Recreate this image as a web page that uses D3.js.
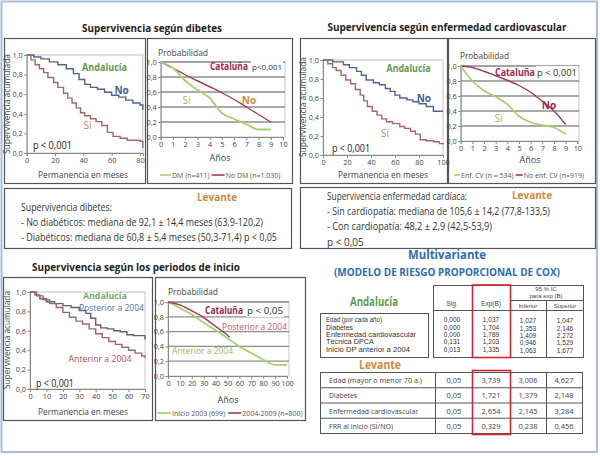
<!DOCTYPE html>
<html><head><meta charset="utf-8">
<script src="https://cdn.jsdelivr.net/npm/d3@7"></script>
<style>
body{margin:0;background:#fff}
svg{display:block}
</style></head><body>
<svg id="c" width="600" height="456"></svg>
<script>
// ---------------- DATA ----------------
// Panel 1: Andalucía, diabetes (months)
const p1NoX = [0,5,10,16,22,28,33,37,41,45,50,55,60,65,70,75,80,82];
const p1NoY = [1.0,0.98,0.96,0.93,0.90,0.86,0.81,0.75,0.70,0.67,0.65,0.62,0.59,0.57,0.54,0.51,0.49,0.44];
const p1SiX = [0,3,6,9,12,15,19,22,26,29,32,35,38,41,45,49,53,57,61,66,71,76,80,82];
const p1SiY = [1.0,0.95,0.90,0.86,0.82,0.77,0.72,0.67,0.61,0.56,0.51,0.46,0.41,0.38,0.35,0.32,0.28,0.21,0.17,0.15,0.13,0.13,0.12,0.05];
// Panel 2: Cataluña, diabetes (years)
const yearsX = [0,1,2,3,4,5,6,7,8,9];
const p2NoY = [1.0,0.92,0.83,0.75,0.67,0.59,0.50,0.40,0.30,0.20];
const p2SiY = [1.0,0.92,0.75,0.63,0.52,0.32,0.24,0.17,0.10,0.10];
// Panel 3: Andalucía, enfermedad cardiovascular (months)
const p3NoX = [0,8,17,22,28,32,36,42,47,52,56,60,64,70,75,80,86,92,100];
const p3NoY = [1.0,0.98,0.95,0.92,0.88,0.84,0.79,0.76,0.74,0.70,0.67,0.63,0.60,0.58,0.56,0.54,0.51,0.46,0.46];
const p3SiX = [0,4,8,11,15,19,23,27,31,34,37,41,45,49,53,58,64,68,73,77,81,86,92,97,100];
const p3SiY = [1.0,0.96,0.92,0.89,0.84,0.79,0.75,0.69,0.63,0.57,0.51,0.46,0.42,0.38,0.35,0.33,0.30,0.28,0.25,0.22,0.16,0.15,0.14,0.12,0.11];
// Panel 4: Cataluña, enfermedad cardiovascular (years)
const p4NoY = [1.0,0.98,0.93,0.87,0.81,0.74,0.65,0.53,0.40,0.22];
const p4SiY = [1.0,0.80,0.67,0.59,0.49,0.33,0.25,0.21,0.18,0.09];
// Panel 5: Andalucía, periodo de inicio (months)
const p5PostX = [0,3,6,10,15,20,25,30,34,37,40,43,47,51,55,59,63,67,70];
const p5PostY = [1.0,0.97,0.93,0.90,0.88,0.86,0.84,0.81,0.78,0.73,0.66,0.63,0.62,0.60,0.59,0.56,0.55,0.55,0.51];
const p5AntX = [0,4,8,12,16,20,24,28,32,36,40,44,48,52,56,60,64,68,70];
const p5AntY = [1.0,0.96,0.92,0.88,0.84,0.79,0.74,0.70,0.67,0.62,0.57,0.53,0.49,0.46,0.43,0.40,0.37,0.34,0.32];
// Panel 6: Cataluña, periodo de inicio
const p6GreenX = [0,10,20,30,40,50,60,70,80,90,100];
const p6GreenY = [1.0,0.92,0.83,0.72,0.62,0.51,0.40,0.31,0.22,0.15,0.15];
const p6RedX = [0,10,20,30,40,50,52];
const p6RedY = [1.0,0.96,0.88,0.79,0.67,0.55,0.52];
// Tick labels
const probTicks = [0,0.2,0.4,0.6,0.8,1.0];
const ticks80 = [0,20,40,60,80];
const ticks100 = [0,20,40,60,80,100];
const ticks70 = [0,10,20,30,40,50,60,70];
const ticks10 = [0,1,2,3,4,5,6,7,8,9,10];
const ticks100b = [0,10,20,30,40,50,60,70,80,90,100];
// Tables
const andVars = ["Edad (por cada año)","Diabetes","Enfermedad cardiovascular","Técnica DPCA","Inicio DP anterior a 2004"];
const andSig = ["0,000","0,000","0,000","0,131","0,013"];
const andExp = ["1,037","1,704","1,789","1,203","1,335"];
const andInf = ["1,027","1,353","1,409","0,946","1,063"];
const andSup = ["1,047","2,146","2,272","1,529","1,677"];
const levVars = ["Edad (mayor o menor 70 a.)","Diabetes","Enfermedad cardiovascular","FRR al inicio (SÍ/NO)"];
const levSig = ["0,05","0,05","0,05","0,05"];
const levExp = ["3,739","1,721","2,654","0,329"];
const levInf = ["3,006","1,379","2,145","0,238"];
const levSup = ["4,627","2,148","3,284","0,456"];

// ---------------- DRAW ----------------
const svg = d3.select("#c");
const F = "'Open Sans', 'Noto Sans', sans-serif";
const FT = "'Liberation Sans', Arial, sans-serif";
const C = {
  andGreen:"#5f9a4c", blueTxt:"#3f5fa6", orange:"#d2893c", catRed:"#9c2a4b",
  andNoLine:"#56628c", andSiLine:"#a7676a", catNoLine:"#a13a5a", catSiLine:"#a9cf72",
  grid:"#8e8e8e", border:"#555", multi:"#2c6db3", red:"#d3262f"
};

function txt(g, x, y, s, o={}) {
  const t = g.append("text").attr("x",x).attr("y",y).text(s)
    .attr("font-family", o.font||F).attr("font-size", o.size||10)
    .attr("fill", o.fill||"#333").attr("font-weight", o.bold?"bold":"normal")
    .attr("text-anchor", o.anchor||"start");
  if (o.len) t.attr("textLength", o.len).attr("lengthAdjust","spacingAndGlyphs");
  if (o.rot) t.attr("transform", `rotate(-90,${x},${y})`);
  return t;
}
function rect(g, x, y, w, h, stroke, sw=1, fill="none") {
  return g.append("rect").attr("x",x).attr("y",y).attr("width",w).attr("height",h)
    .attr("fill",fill).attr("stroke",stroke).attr("stroke-width",sw);
}

// outer frame
rect(svg, 1.5, 1.5, 595.5, 450.5, "#a9bdd8", 2);

function panel(L, series, labels) {
  const g = svg.append("g");
  rect(g, L.box[0]+0.5, L.box[1]+0.5, L.box[2]-L.box[0], L.box[3]-L.box[1], C.border, 1.2);
  const x = d3.scaleLinear().domain(L.xd).range(L.xr);
  const y = d3.scaleLinear().domain([0,1]).range(L.yr);
  if (L.grid) {
    rect(g, L.xr[0], L.yr[1], L.gridRight - L.xr[0], L.yr[0]-L.yr[1], "#c8c8c8", 1);
    g.selectAll("line.gr").data(probTicks.filter(d=>d>0)).join("line")
      .attr("x1", L.xr[0]).attr("x2", L.gridRight)
      .attr("y1", d=>y(d)).attr("y2", d=>y(d))
      .attr("stroke", C.grid).attr("stroke-width", 1.3);
  } else {
    rect(g, L.xr[0], L.yr[1], L.xr[1]-L.xr[0], L.yr[0]-L.yr[1], "#c4c4c4", 1);
  }
  const fmt = d => d.toFixed(1).replace(".", ",");
  const ya = g.append("g").attr("transform",`translate(${L.xr[0]},0)`)
    .call(d3.axisLeft(y).tickValues(probTicks).tickSize(2.5).tickPadding(1.5).tickFormat(fmt));
  const xa = g.append("g").attr("transform",`translate(0,${L.yr[0]})`)
    .call(d3.axisBottom(x).tickValues(L.xt).tickSize(3).tickPadding(2).tickFormat(d3.format("d")));
  [ya, xa].forEach(a => {
    a.selectAll("text").attr("font-family",F).attr("font-size",7.3).attr("fill","#444");
    a.selectAll("line,path").attr("stroke","#888");
  });
  series.forEach(s => {
    g.append("path").datum(d3.zip(s.x, s.y))
      .attr("d", d3.line().x(d=>x(d[0])).y(d=>y(d[1])).curve(s.curve))
      .attr("fill","none").attr("stroke", s.color).attr("stroke-width", s.w||1.4);
  });
  labels.forEach(l => {
    const px = x(l.at[0]), py = y(l.at[1]);
    if (l.bg) {
      const t = txt(g, px, py, l.t, l);
      const bb = t.node().getBBox();
      g.insert("rect", () => t.node()).attr("x",bb.x-1).attr("y",bb.y)
        .attr("width",bb.width+2).attr("height",bb.height).attr("fill","#fff");
    } else txt(g, px, py, l.t, l);
  });
  return {g, x, y};
}

// Titles
txt(svg, 152, 32, "Supervivencia según dibetes", {bold:true, size:10.5, fill:"#222", anchor:"middle", len:140});
txt(svg, 447, 31, "Supervivencia según enfermedad cardiovascular", {bold:true, size:10.5, fill:"#222", anchor:"middle", len:239});
txt(svg, 136, 271, "Supervivencia según los periodos de inicio", {bold:true, size:10.5, fill:"#222", anchor:"middle", len:208});

// Panel 1
panel({box:[4,38,145,183], xd:[0,82], xr:[26.7,142.8], yr:[153,55], xt:ticks80},
  [{x:p1NoX, y:p1NoY, color:C.andNoLine, curve:d3.curveStepAfter},
   {x:p1SiX, y:p1SiY, color:C.andSiLine, curve:d3.curveStepAfter}],
  [{t:"Andalucía", at:[55,0.84], bold:true, fill:C.andGreen, anchor:"middle", size:10, len:45},
   {t:"No", at:[67,0.60], bold:true, fill:C.blueTxt, anchor:"middle", size:10},
   {t:"Si", at:[43,0.245], fill:C.orange, anchor:"middle", size:10},
   {t:"p < 0,001", at:[4.4,0.04], fill:"#222", size:10, len:39}]);
txt(svg, 83, 178, "Permanencia en meses", {size:9, fill:"#444", anchor:"middle", len:90});
txt(svg, 10, 104, "Supervivencia acumulada", {size:8.5, fill:"#444", anchor:"middle", rot:true, len:100});

// Panel 2
panel({box:[147,38,292,183], xd:[0,10], xr:[160.7,283], yr:[137,62], xt:ticks10, grid:true, gridRight:285},
  [{x:yearsX, y:p2NoY, color:C.catNoLine, curve:d3.curveMonotoneX},
   {x:yearsX, y:p2SiY, color:C.catSiLine, curve:d3.curveMonotoneX, w:1.8}],
  [{t:"Cataluña", at:[4.03,0.893], bold:true, fill:C.catRed, size:10, len:38},
   {t:"p<0,001", at:[7.47,0.893], fill:"#333", size:8, bg:true, len:30},
   {t:"No", at:[7.22,0.44], bold:true, fill:C.orange, anchor:"middle", size:10},
   {t:"Si", at:[2.11,0.44], fill:"#8fbf5a", anchor:"middle", size:10}]);
txt(svg, 158, 56, "Probabilidad", {size:9, fill:"#444", len:50});
txt(svg, 220, 161, "Años", {size:9, fill:"#444", anchor:"middle"});

// Panel 3
panel({box:[300,38,447,183], xd:[0,100], xr:[323,443], yr:[155,60], xt:ticks100},
  [{x:p3NoX, y:p3NoY, color:C.andNoLine, curve:d3.curveStepAfter},
   {x:p3SiX, y:p3SiY, color:C.andSiLine, curve:d3.curveStepAfter}],
  [{t:"Andalucía", at:[71.3,0.874], bold:true, fill:C.andGreen, anchor:"middle", size:10, len:44},
   {t:"No", at:[84,0.558], bold:true, fill:C.blueTxt, anchor:"middle", size:10},
   {t:"Si", at:[51.7,0.19], fill:C.orange, anchor:"middle", size:10},
   {t:"p < 0,001", at:[7.5,0.03], fill:"#222", size:10, len:38}]);
txt(svg, 383, 178, "Permanencia en meses", {size:9, fill:"#444", anchor:"middle", len:90});
txt(svg, 306, 107, "Supervivencia acumulada", {size:8.5, fill:"#444", anchor:"middle", rot:true, len:100});

// Panel 4
panel({box:[448,38,595,183], xd:[0,10], xr:[460.7,577.3], yr:[141,66], xt:ticks10, grid:true, gridRight:579},
  [{x:yearsX, y:p4NoY, color:C.catNoLine, curve:d3.curveMonotoneX},
   {x:yearsX, y:p4SiY, color:C.catSiLine, curve:d3.curveMonotoneX, w:1.8}],
  [{t:"Cataluña", at:[2.94,0.867], bold:true, fill:C.catRed, size:10, len:40},
   {t:"p < 0,001", at:[6.54,0.867], fill:"#333", size:9.5, bg:true, len:40},
   {t:"No", at:[7.57,0.427], bold:true, fill:C.catRed, anchor:"middle", size:10},
   {t:"Si", at:[3.24,0.253], fill:"#8fbf5a", anchor:"middle", size:10}]);
txt(svg, 460, 59, "Probabilidad", {size:9, fill:"#444", len:49});
txt(svg, 530, 163, "Años", {size:9, fill:"#444", anchor:"middle"});

// Panel 5
panel({box:[3,277,152,420], xd:[0,70], xr:[30,145], yr:[389,292], xt:ticks70},
  [{x:p5PostX, y:p5PostY, color:"#5c6272", curve:d3.curveStepAfter},
   {x:p5AntX, y:p5AntY, color:"#9d6676", curve:d3.curveStepAfter}],
  [{t:"Andalucía", at:[45.6,0.928], bold:true, fill:"#7aa66a", anchor:"middle", size:9.5, len:44},
   {t:"Posterior a 2004", at:[49.6,0.804], fill:"#4a72b0", anchor:"middle", size:9, len:65},
   {t:"Anterior a 2004", at:[42.6,0.278], fill:"#b24a5c", anchor:"middle", size:9, len:63},
   {t:"p < 0,001", at:[3.65,0.02], fill:"#222", size:10, len:38}]);
txt(svg, 83, 415, "Permanencia en meses", {size:9, fill:"#444", anchor:"middle", len:90});
txt(svg, 10, 340, "Supervivencia acumulada", {size:8.5, fill:"#444", anchor:"middle", rot:true, len:98});

// Panel 6
panel({box:[155,277,305,420], xd:[0,100], xr:[168,287], yr:[376,302], xt:ticks100b, grid:true, gridRight:289},
  [{x:p6GreenX, y:p6GreenY, color:C.catSiLine, curve:d3.curveMonotoneX, w:1.8},
   {x:p6RedX, y:p6RedY, color:C.catNoLine, curve:d3.curveMonotoneX}],
  [{t:"Cataluña", at:[31.1,0.838], bold:true, fill:C.catRed, size:10, len:38},
   {t:"p < 0,05", at:[66.4,0.838], fill:"#333", size:9.5, bg:true, len:36},
   {t:"Posterior a 2004", at:[45.4,0.62], fill:"#c4566a", size:9, len:65},
   {t:"Anterior a 2004", at:[3.4,0.30], fill:"#8ec060", size:9, len:61}]);
txt(svg, 168, 295, "Probabilidad", {size:9, fill:"#444", len:50});
txt(svg, 228, 403, "Años", {size:9, fill:"#444", anchor:"middle"});

// Legends
function legend(x, y, items) {
  let cx = x;
  items.forEach(it => {
    svg.append("line").attr("x1",cx).attr("x2",cx+it.lw).attr("y1",y).attr("y2",y)
      .attr("stroke",it.color).attr("stroke-width",1.6);
    const t = txt(svg, cx+it.lw+1, y+2.5, it.t, {size:7, fill:"#555"});
    cx += it.lw + 1 + t.node().getComputedTextLength() + it.gap;
  });
}
legend(160, 175, [{t:"DM (n=411)", color:C.catSiLine, lw:11, gap:2},{t:"No DM (n=1.030)", color:C.catNoLine, lw:13, gap:0}]);
legend(454, 175, [{t:"Enf. CV (n = 534)", color:C.catSiLine, lw:6, gap:2},{t:"No enf. CV (n=919)", color:C.catNoLine, lw:7, gap:0}]);
legend(157, 413, [{t:"Inicio 2003 (699)", color:C.catSiLine, lw:14, gap:3},{t:"2004-2009 (n=800)", color:C.catNoLine, lw:13, gap:0}]);

// Text boxes
rect(svg, 4.5, 188.5, 287, 60, C.border, 1.2);
txt(svg, 217, 201, "Levante", {bold:true, size:10, fill:C.orange, anchor:"middle"});
txt(svg, 21, 211, "Supervivencia dibetes:", {size:10, fill:"#333", len:91});
txt(svg, 21, 226, "- No diabéticos: mediana de 92,1 ± 14,4 meses (63,9-120,2)", {size:10, fill:"#333", len:242});
txt(svg, 21, 241, "- Diabéticos: mediana de 60,8 ± 5,4 meses (50,3-71,4) p < 0,05", {size:10, fill:"#333", len:256});

rect(svg, 300.5, 187.5, 295, 61, C.border, 1.2);
txt(svg, 532, 199, "Levante", {bold:true, size:10, fill:C.orange, anchor:"middle"});
txt(svg, 327, 199.5, "Supervivencia enfermedad cardíaca:", {size:10, fill:"#333", len:140});
txt(svg, 327, 215, "- Sin cardiopatía: mediana de 105,6 ± 14,2 (77,8-133,5)", {size:10, fill:"#333", len:223});
txt(svg, 327, 230, "- Con cardiopatía: 48,2 ± 2,9 (42,5-53,9)", {size:10, fill:"#333", len:165});
txt(svg, 327, 245.5, "p < 0,05", {size:10, fill:"#333"});

// Multivariante
txt(svg, 447, 259, "Multivariante", {bold:true, size:12, fill:C.multi, anchor:"middle", len:78});
txt(svg, 447, 276, "(MODELO DE RIESGO PROPORCIONAL DE COX)", {bold:true, size:11, fill:C.multi, anchor:"middle", len:226});
txt(svg, 374, 306, "Andalucía", {bold:true, size:12, fill:C.andGreen, anchor:"middle", len:48});

// Andalucía table
const colX = {sig:452, exp:491, inf:528, sup:565};
const andLen = [56, 27, 90, 48, 84];
const tg = svg.append("g");
rect(tg, 433.5, 285.5, 150, 72, C.border, 1);
tg.append("line").attr("x1",433.5).attr("x2",583.5).attr("y1",310.5).attr("y2",310.5).attr("stroke",C.border);
tg.append("line").attr("x1",510).attr("x2",583.5).attr("y1",300.5).attr("y2",300.5).attr("stroke",C.border);
tg.append("line").attr("x1",546.5).attr("x2",546.5).attr("y1",300.5).attr("y2",357.5).attr("stroke",C.border);
txt(tg, colX.sig, 306, "Sig.", {size:6.5, fill:"#444", anchor:"middle", font:FT});
txt(tg, colX.exp, 306, "Exp(B)", {size:6.5, fill:"#444", anchor:"middle", font:FT});
txt(tg, 546, 291.3, "95 % IC", {size:6, fill:"#444", anchor:"middle", font:FT});
txt(tg, 546, 298.3, "para exp (B)", {size:6, fill:"#444", anchor:"middle", font:FT});
txt(tg, colX.inf, 307.5, "Inferior", {size:6, fill:"#444", anchor:"middle", font:FT});
txt(tg, colX.sup, 307.5, "Superior", {size:6, fill:"#444", anchor:"middle", font:FT});
rect(tg, 320.5, 313.5, 108, 44, C.border, 1);
const rowY = d3.scaleLinear().domain([0,4]).range([322.2, 351.6]);
andVars.forEach((v,i) => {
  txt(tg, 326, rowY(i), v, {size:6.5, fill:"#333", font:FT, len:andLen[i]});
  txt(tg, colX.sig, rowY(i), andSig[i], {size:6.5, fill:"#333", anchor:"middle", font:FT});
  txt(tg, colX.exp, rowY(i), andExp[i], {size:6.5, fill:"#333", anchor:"middle", font:FT});
  txt(tg, colX.inf, rowY(i)+1, andInf[i], {size:6.5, fill:"#333", anchor:"middle", font:FT});
  txt(tg, colX.sup, rowY(i)+1, andSup[i], {size:6.5, fill:"#333", anchor:"middle", font:FT});
});
rect(tg, 472.5, 285, 38, 72.5, C.red, 1.6);

// Levante table
txt(svg, 380, 369, "Levante", {bold:true, size:12, fill:C.orange, anchor:"middle", len:42});
const levLen = [93, 28, 89, 64];
const lg = svg.append("g");
const lRow = d3.scaleLinear().domain([0,4]).range([372.5, 433.5]);
rect(lg, 320.5, 372.5, 262, 61, C.border, 1);
[1,2,3].forEach(i => lg.append("line").attr("x1",320.5).attr("x2",582.5).attr("y1",lRow(i)).attr("y2",lRow(i)).attr("stroke",C.border));
[435.5, 546.5].forEach(xv => lg.append("line").attr("x1",xv).attr("x2",xv).attr("y1",372.5).attr("y2",433.5).attr("stroke",C.border));
levVars.forEach((v,i) => {
  const yb = (lRow(i)+lRow(i+1))/2 + 3;
  txt(lg, 329, yb, v, {size:8, fill:"#444", len:levLen[i]});
  txt(lg, 454, yb, levSig[i], {size:7.5, fill:"#444", anchor:"middle"});
  txt(lg, 491, yb, levExp[i], {size:7.5, fill:"#444", anchor:"middle"});
  txt(lg, 528, yb, levInf[i], {size:7.5, fill:"#444", anchor:"middle"});
  txt(lg, 564, yb, levSup[i], {size:7.5, fill:"#444", anchor:"middle"});
});
rect(lg, 472.5, 370.5, 38, 64, C.red, 1.6);
</script>
</body></html>
